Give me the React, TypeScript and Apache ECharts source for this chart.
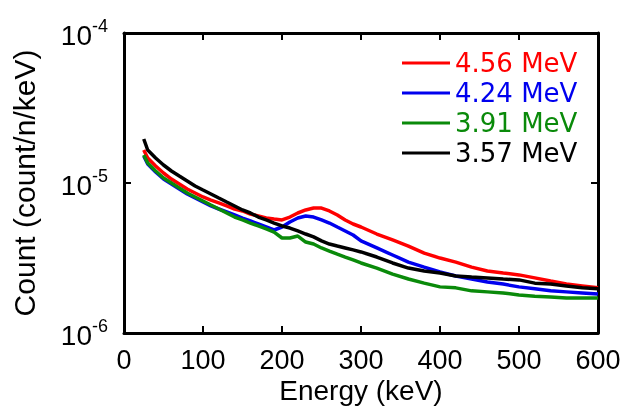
import React, { useEffect, useRef } from "react";
import * as echarts from "echarts";

const energies = [25, 30, 40, 50, 60, 70, 80, 90, 100, 110, 120, 130, 140, 150, 160, 170, 180, 190, 200, 210, 220, 230, 240, 250, 260, 270, 280, 290, 300, 320, 340, 360, 380, 400, 420, 440, 460, 480, 500, 520, 540, 560, 580, 600];

const mev456 = [16.60e-6, 14.68e-6, 12.98e-6, 11.66e-6, 10.63e-6, 9.85e-6, 9.12e-6, 8.58e-6, 8.07e-6, 7.70e-6, 7.36e-6, 7.03e-6, 6.71e-6, 6.51e-6, 6.21e-6, 6.03e-6, 5.84e-6, 5.75e-6, 5.67e-6, 5.93e-6, 6.31e-6, 6.61e-6, 6.81e-6, 6.81e-6, 6.51e-6, 6.12e-6, 5.67e-6, 5.33e-6, 5.09e-6, 4.57e-6, 4.17e-6, 3.80e-6, 3.41e-6, 3.16e-6, 2.97e-6, 2.75e-6, 2.59e-6, 2.51e-6, 2.44e-6, 2.33e-6, 2.22e-6, 2.12e-6, 2.06e-6, 2.00e-6];

const mev424 = [15.14e-6, 13.38e-6, 11.84e-6, 10.63e-6, 9.85e-6, 9.12e-6, 8.45e-6, 7.94e-6, 7.47e-6, 7.03e-6, 6.71e-6, 6.41e-6, 6.12e-6, 5.84e-6, 5.58e-6, 5.33e-6, 5.09e-6, 4.86e-6, 5.09e-6, 5.50e-6, 5.84e-6, 6.03e-6, 5.93e-6, 5.67e-6, 5.41e-6, 5.09e-6, 4.79e-6, 4.50e-6, 4.11e-6, 3.69e-6, 3.31e-6, 2.97e-6, 2.75e-6, 2.55e-6, 2.40e-6, 2.29e-6, 2.19e-6, 2.12e-6, 2.03e-6, 1.97e-6, 1.91e-6, 1.88e-6, 1.85e-6, 1.82e-6];

const mev391 = [15.37e-6, 13.59e-6, 12.02e-6, 10.80e-6, 10.0e-6, 9.26e-6, 8.58e-6, 8.07e-6, 7.59e-6, 7.13e-6, 6.71e-6, 6.31e-6, 5.93e-6, 5.67e-6, 5.41e-6, 5.17e-6, 4.94e-6, 4.71e-6, 4.30e-6, 4.30e-6, 4.43e-6, 4.04e-6, 3.92e-6, 3.69e-6, 3.52e-6, 3.36e-6, 3.21e-6, 3.07e-6, 2.93e-6, 2.71e-6, 2.47e-6, 2.29e-6, 2.15e-6, 2.03e-6, 2.00e-6, 1.91e-6, 1.88e-6, 1.85e-6, 1.79e-6, 1.76e-6, 1.74e-6, 1.71e-6, 1.71e-6, 1.71e-6];

const mev357 = [19.65e-6, 16.60e-6, 14.68e-6, 13.18e-6, 12.02e-6, 11.13e-6, 10.31e-6, 9.55e-6, 8.98e-6, 8.45e-6, 7.94e-6, 7.47e-6, 7.03e-6, 6.61e-6, 6.31e-6, 5.93e-6, 5.67e-6, 5.41e-6, 5.17e-6, 5.01e-6, 4.79e-6, 4.57e-6, 4.37e-6, 4.11e-6, 3.92e-6, 3.80e-6, 3.69e-6, 3.58e-6, 3.47e-6, 3.21e-6, 2.93e-6, 2.71e-6, 2.59e-6, 2.51e-6, 2.40e-6, 2.36e-6, 2.33e-6, 2.29e-6, 2.26e-6, 2.15e-6, 2.12e-6, 2.06e-6, 2.00e-6, 1.97e-6];

const seriesNames = ["4.56 MeV", "4.24 MeV", "3.91 MeV", "3.57 MeV"];
const seriesValues = [mev456, mev424, mev391, mev357];
const seriesColors = ["#ff0000", "#0000ee", "#0a8a0a", "#000000"];

const xTitle = "Energy (keV)";
const yTitle = "Count (count/n/keV)";

export default function App() {
  const ref = useRef<HTMLDivElement>(null);
  useEffect(() => {
    if (!ref.current) return;
    const chart = echarts.init(ref.current, undefined, { renderer: "svg" });
    const axisLine = { show: true, onZero: false, lineStyle: { color: "#000", width: 3 } };
    const tick = { show: true, inside: true, length: 7, lineStyle: { color: "#000", width: 2 } };
    const sans = "'Liberation Sans', Arial, sans-serif";
    chart.setOption({
      animation: false,
      grid: { left: 124, right: 46, top: 33, bottom: 73, outerBoundsMode: "none" },
      legend: {
        orient: "vertical",
        left: 402,
        top: 50,
        padding: 0,
        itemWidth: 48,
        itemHeight: 3,
        itemGap: 4,
        icon: "rect",
        textStyle: { fontFamily: "'DejaVu Sans', Verdana, sans-serif", fontSize: 26 },
        data: seriesNames.map((n, i) => ({ name: n, textStyle: { color: seriesColors[i] } })),
      },
      xAxis: [
        {
          type: "value",
          position: "bottom",
          min: 0,
          max: 600,
          interval: 100,
          axisLine,
          axisTick: tick,
          splitLine: { show: false },
          axisLabel: { color: "#000", fontFamily: sans, fontSize: 27, lineHeight: 24, margin: 15 },
          name: xTitle,
          nameLocation: "middle",
          nameGap: 44,
          nameMoveOverlap: false,
          nameTextStyle: { color: "#000", fontFamily: sans, fontSize: 28, lineHeight: 26 },
        },
        {
          type: "value",
          position: "top",
          min: 0,
          max: 600,
          interval: 100,
          axisLine,
          axisTick: tick,
          splitLine: { show: false },
          axisLabel: { show: false },
        },
      ],
      yAxis: [
        {
          type: "log",
          logBase: 10,
          position: "left",
          min: 1e-6,
          max: 1e-4,
          axisLine,
          axisTick: tick,
          minorTick: { show: false },
          splitLine: { show: false },
          axisLabel: {
            margin: 16,
            formatter: (v: number) => `{b|10}{s|${Math.round(Math.log10(v))}}`,
            rich: {
              b: { fontFamily: sans, fontSize: 28, lineHeight: 32, color: "#000", verticalAlign: "bottom" },
              s: { fontFamily: sans, fontSize: 18, lineHeight: 20, color: "#000", verticalAlign: "top" },
            },
          },
          name: yTitle,
          nameLocation: "middle",
          nameGap: 85,
          nameMoveOverlap: false,
          nameRotate: 90,
          nameTextStyle: { color: "#000", fontFamily: sans, fontSize: 30 },
        },
        {
          type: "log",
          logBase: 10,
          position: "right",
          min: 1e-6,
          max: 1e-4,
          axisLine,
          axisTick: tick,
          minorTick: { show: false },
          splitLine: { show: false },
          axisLabel: { show: false },
        },
      ],
      series: seriesNames.map((n, i) => ({
        name: n,
        type: "line",
        xAxisIndex: 0,
        yAxisIndex: 0,
        showSymbol: false,
        symbol: "none",
        lineStyle: { color: seriesColors[i], width: 3.5 },
        itemStyle: { color: seriesColors[i] },
        data: energies.map((e, j) => [e, seriesValues[i][j]]),
      })),
    });
    return () => chart.dispose();
  }, []);
  return <div ref={ref} style={{ position: "fixed", left: 0, top: 0, width: 644, height: 406 }} />;
}
